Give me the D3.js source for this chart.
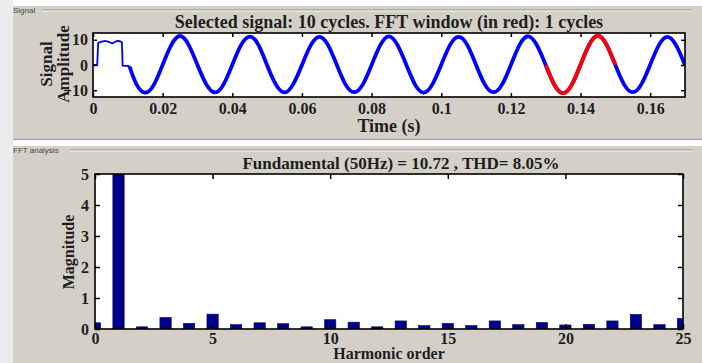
<!DOCTYPE html>
<html lang="en">
<head>
    <meta charset="UTF-8">
    <title>Signal and FFT analysis</title>
    <style>
        body {
            margin: 0;
            background: #ffffff;
        }
        .axis text {
            font-family: "Liberation Serif", "Times New Roman", serif;
            font-weight: bold;
            font-size: 16px;
            fill: #1e1e1e;
        }
        .axis line {
            stroke: #000;
            stroke-width: 1.5;
        }
        .lbl {
            font-family: "Liberation Serif", "Times New Roman", serif;
            font-weight: bold;
            fill: #1e1e1e;
        }
        .panel-title {
            font-family: "Liberation Sans", Arial, sans-serif;
            font-size: 8px;
            fill: #444;
        }
    </style>
</head>
<body>
    <div id="chart"></div>

    <script src="https://d3js.org/d3.v7.min.js"></script>

    <script>
        // ---- data ----

        // start-up part of the selected signal (thin line)
        var startTime  = [0, 0.0012, 0.0015, 0.0025, 0.0035, 0.0045, 0.0055, 0.0065, 0.0072, 0.0080, 0.0083, 0.0085, 0.0105];
        var startValue = [0, 0, 8.8, 9.3, 9.6, 9.2, 8.5, 9.3, 9.6, 9.3, 9.0, -0.3, -0.4];

        // steady 50 Hz part, sampled every 1/8 cycle
        var waveTime = [0.0105, 0.0125, 0.015, 0.0175, 0.02, 0.0225, 0.025, 0.0275, 0.03, 0.0325,
                        0.035, 0.0375, 0.04, 0.0425, 0.045, 0.0475, 0.05, 0.0525, 0.055, 0.0575,
                        0.06, 0.0625, 0.065, 0.0675, 0.07, 0.0725, 0.075, 0.0775, 0.08, 0.0825,
                        0.085, 0.0875, 0.09, 0.0925, 0.095, 0.0975, 0.1, 0.1025, 0.105, 0.1075,
                        0.11, 0.1125, 0.115, 0.1175, 0.12, 0.1225, 0.125, 0.1275, 0.13, 0.1325,
                        0.135, 0.1375, 0.14, 0.1425, 0.145, 0.1475, 0.15, 0.1525, 0.155, 0.1575,
                        0.16, 0.1625, 0.165, 0.1675, 0.17];
        var waveValue = [-0.6, -7.7, -11.0, -7.8, 0.1, 8.0, 11.5, 7.9, 0, -7.6,
                         -10.9, -7.7, 0.1, 7.9, 11.3, 8.0, -0.1, -7.7, -10.9, -7.6,
                         0, 7.8, 11.2, 7.9, 0.1, -7.7, -10.8, -7.7, 0, 7.9,
                         11.4, 7.8, 0, -7.8, -11.0, -7.6, 0.1, 7.9, 11.2, 7.9,
                         0, -7.7, -10.8, -7.7, 0, 8.0, 11.4, 7.8, 0, -7.9,
                         -11.2, -7.8, 0.1, 8.1, 11.6, 8.0, 0, -7.7, -10.8, -7.6,
                         0.1, 7.9, 11.2, 7.7, 0];

        // FFT window (drawn in red)
        var fftWindow = [0.13, 0.15];

        var timeTicks = [0, 0.02, 0.04, 0.06, 0.08, 0.1, 0.12, 0.14, 0.16];
        var ampTicks = [-10, 0, 10];

        // harmonic spectrum, order 0..25 (fundamental = 10.72, clipped at 5)
        var harmonicOrder = d3.range(0, 26);
        var harmonicMag = [0.20, 10.72, 0.07, 0.37, 0.18, 0.48, 0.14, 0.20, 0.17, 0.07,
                           0.30, 0.22, 0.07, 0.26, 0.11, 0.18, 0.11, 0.26, 0.14, 0.21,
                           0.13, 0.15, 0.26, 0.47, 0.14, 0.34];
        var orderTicks = [0, 5, 10, 15, 20, 25];
        var magTicks = [0, 1, 2, 3, 4, 5];

        var signalTitle = "Selected signal: 10 cycles. FFT window (in red): 1 cycles";
        var fftTitle = "Fundamental (50Hz) = 10.72 , THD= 8.05%";

        // ---- layout ----
        var width = 702, height = 363;
        var panelGrey = "#d4d0c8";

        var svg = d3.select("#chart")
            .append("svg")
            .attr("width", width)
            .attr("height", height);

        svg.append("rect").attr("width", width).attr("height", height).attr("fill", "#ffffff");
        svg.append("rect").attr("x", 0).attr("y", 0).attr("width", 13).attr("height", height).attr("fill", "#ececec");

        // two grey panels with etched borders
        function panel(y0, y1, label, lineStart) {
            svg.append("rect")
                .attr("x", 13).attr("y", y0)
                .attr("width", width - 13).attr("height", y1 - y0)
                .attr("fill", panelGrey);
            svg.append("line")
                .attr("x1", lineStart).attr("x2", 693)
                .attr("y1", y0 + 4).attr("y2", y0 + 4)
                .attr("stroke", "#8a8a8a").attr("stroke-width", 1);
            svg.append("line")
                .attr("x1", lineStart).attr("x2", 693)
                .attr("y1", y0 + 5).attr("y2", y0 + 5)
                .attr("stroke", "#f4f4f4").attr("stroke-width", 1);
            svg.append("text")
                .attr("class", "panel-title")
                .attr("x", 13).attr("y", y0 + 7)
                .text(label);
        }
        panel(6, 139, "Signal", 42);
        panel(146, height, "FFT analysis", 70);

        // separator between panels
        svg.append("line").attr("x1", 13).attr("x2", width).attr("y1", 139.5).attr("y2", 139.5)
            .attr("stroke", "#9a9a9a");

        // ---- signal axes ----
        var sx = d3.scaleLinear().domain([0, 0.17]).range([93, 685]);
        var sy = d3.scaleLinear().domain([-12.7, 12.7]).range([97, 33]);

        svg.append("defs").append("clipPath").attr("id", "clipSig")
            .append("rect").attr("x", 93).attr("y", 33).attr("width", 592).attr("height", 64);

        svg.append("rect")
            .attr("x", 93).attr("y", 33).attr("width", 592).attr("height", 64)
            .attr("fill", "#ffffff");

        var startPts = startTime.map(function(t, i) { return [t, startValue[i]]; });
        var wavePts = waveTime.map(function(t, i) { return [t, waveValue[i]]; });
        var windowPts = wavePts.filter(function(p) { return p[0] >= fftWindow[0] && p[0] <= fftWindow[1]; });

        var line = d3.line()
            .x(function(d) { return sx(d[0]); })
            .y(function(d) { return sy(d[1]); });

        var sigG = svg.append("g").attr("clip-path", "url(#clipSig)");
        sigG.append("path").datum(startPts)
            .attr("d", line)
            .attr("fill", "none").attr("stroke", "#0000ff").attr("stroke-width", 1.8);
        sigG.append("path").datum(wavePts)
            .attr("d", line.curve(d3.curveNatural))
            .attr("fill", "none").attr("stroke", "#0000ff").attr("stroke-width", 3.8)
            .attr("stroke-linejoin", "round");
        sigG.append("path").datum(windowPts)
            .attr("d", line.curve(d3.curveNatural))
            .attr("fill", "none").attr("stroke", "#ff0000").attr("stroke-width", 3.8)
            .attr("stroke-linecap", "butt");

        // ticks pointing inward, labels bottom/left only
        svg.append("g").attr("class", "axis").attr("transform", "translate(0,97)")
            .call(d3.axisBottom(sx).tickValues(timeTicks).tickSize(-4).tickPadding(6)
                .tickFormat(function(d) { return d === 0 ? "0" : d3.format("")(+d.toFixed(2)); }))
            .call(function(g) { g.select(".domain").remove(); });
        svg.append("g").attr("class", "axis").attr("transform", "translate(0,33)")
            .call(d3.axisTop(sx).tickValues(timeTicks).tickSize(-4).tickFormat(""))
            .call(function(g) { g.select(".domain").remove(); });
        svg.append("g").attr("class", "axis").attr("transform", "translate(93,0)")
            .call(d3.axisLeft(sy).tickValues(ampTicks).tickSize(-4).tickPadding(5))
            .call(function(g) { g.select(".domain").remove(); });
        svg.append("g").attr("class", "axis").attr("transform", "translate(685,0)")
            .call(d3.axisRight(sy).tickValues(ampTicks).tickSize(-4).tickFormat(""))
            .call(function(g) { g.select(".domain").remove(); });

        svg.append("rect")
            .attr("x", 93).attr("y", 33).attr("width", 592).attr("height", 64)
            .attr("fill", "none").attr("stroke", "#000").attr("stroke-width", 1.6);

        svg.append("text").attr("class", "lbl")
            .attr("x", 389).attr("y", 28)
            .attr("text-anchor", "middle").style("font-size", "18px")
            .text(signalTitle);
        svg.append("text").attr("class", "lbl")
            .attr("x", 389).attr("y", 132)
            .attr("text-anchor", "middle").style("font-size", "18px")
            .text("Time (s)");
        svg.append("text").attr("class", "lbl")
            .attr("transform", "translate(52,64) rotate(-90)")
            .attr("text-anchor", "middle").style("font-size", "17px")
            .text("Signal");
        svg.append("text").attr("class", "lbl")
            .attr("transform", "translate(69,64) rotate(-90)")
            .attr("text-anchor", "middle").style("font-size", "17px")
            .text("Amplitude");

        // ---- FFT axes ----
        var fx = d3.scaleLinear().domain([0, 25]).range([95, 683]);
        var fy = d3.scaleLinear().domain([0, 5]).range([329, 174]);
        var barW = 0.48;

        svg.select("defs").append("clipPath").attr("id", "clipFft")
            .append("rect").attr("x", 95).attr("y", 174).attr("width", 588).attr("height", 155);

        svg.append("rect")
            .attr("x", 95).attr("y", 174).attr("width", 588).attr("height", 155)
            .attr("fill", "#ffffff");

        svg.append("g").attr("clip-path", "url(#clipFft)")
            .selectAll(".bar")
            .data(harmonicOrder)
            .enter()
            .append("rect")
            .attr("class", "bar")
            .attr("x", function(d) { return fx(d - barW / 2); })
            .attr("width", function(d) { return fx(barW) - fx(0); })
            .attr("y", function(d) { return fy(harmonicMag[d]); })
            .attr("height", function(d) { return fy(0) - fy(harmonicMag[d]); })
            .attr("fill", "#00008f")
            .attr("stroke", "#00005a")
            .attr("stroke-width", 0.6);

        svg.append("g").attr("class", "axis").attr("transform", "translate(0,329)")
            .call(d3.axisBottom(fx).tickValues(orderTicks).tickSize(-5).tickPadding(4)
                .tickFormat(d3.format("d")))
            .call(function(g) { g.select(".domain").remove(); });
        svg.append("g").attr("class", "axis").attr("transform", "translate(0,174)")
            .call(d3.axisTop(fx).tickValues(orderTicks).tickSize(-5).tickFormat(""))
            .call(function(g) { g.select(".domain").remove(); });
        svg.append("g").attr("class", "axis").attr("transform", "translate(95,0)")
            .call(d3.axisLeft(fy).tickValues(magTicks).tickSize(-5).tickPadding(6)
                .tickFormat(d3.format("d")))
            .call(function(g) { g.select(".domain").remove(); });
        svg.append("g").attr("class", "axis").attr("transform", "translate(683,0)")
            .call(d3.axisRight(fy).tickValues(magTicks).tickSize(-5).tickFormat(""))
            .call(function(g) { g.select(".domain").remove(); });

        svg.append("rect")
            .attr("x", 95).attr("y", 174).attr("width", 588).attr("height", 155)
            .attr("fill", "none").attr("stroke", "#000").attr("stroke-width", 1.6);

        svg.append("text").attr("class", "lbl")
            .attr("x", 401).attr("y", 169)
            .attr("text-anchor", "middle").style("font-size", "17px")
            .text(fftTitle);
        svg.append("text").attr("class", "lbl")
            .attr("x", 389).attr("y", 359)
            .attr("text-anchor", "middle").style("font-size", "16px")
            .text("Harmonic order");
        svg.append("text").attr("class", "lbl")
            .attr("transform", "translate(74,252) rotate(-90)")
            .attr("text-anchor", "middle").style("font-size", "16px")
            .text("Magnitude");
    </script>
</body>
</html>
